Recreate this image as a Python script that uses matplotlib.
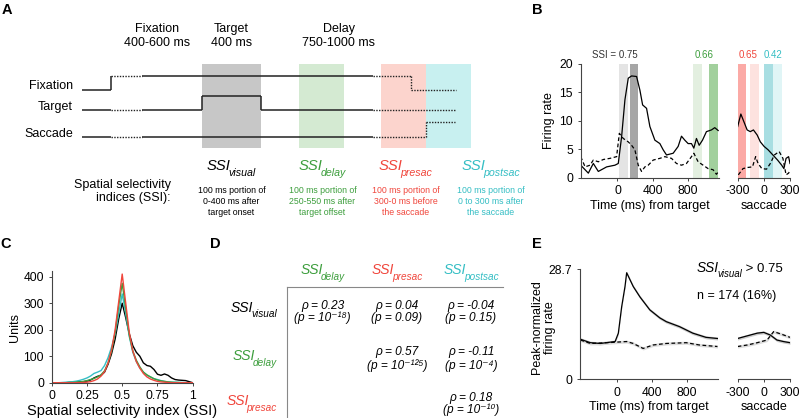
import numpy as np
import matplotlib.pyplot as plt

plt.rcParams['font.family'] = ['Liberation Sans', 'DejaVu Sans']
plt.rcParams['axes.unicode_minus'] = False
plt.rcParams['axes.linewidth'] = 0.8
plt.rcParams['axes.edgecolor'] = '#444444'
plt.rcParams['xtick.major.size'] = 2
plt.rcParams['ytick.major.size'] = 2
plt.rcParams['xtick.major.width'] = 0.7
plt.rcParams['ytick.major.width'] = 0.7
plt.rcParams['xtick.color'] = '#444444'
plt.rcParams['ytick.color'] = '#444444'
plt.rcParams['xtick.labelcolor'] = 'black'
plt.rcParams['ytick.labelcolor'] = 'black'
plt.rcParams['xtick.labelsize'] = 8.7
plt.rcParams['ytick.labelsize'] = 8.7

# colours of the four SSI epochs
col_vis, col_del, col_pre, col_post = 'black', '#3d9e3d', '#f0463c', '#35bec4'
ssi_cols = [col_vis, col_del, col_pre, col_post]
ssi_subs = ['visual', 'delay', 'presac', 'postsac']

# ---------------- panel A (schematic, pixel units of the figure)
a_epoch_names = ['Fixation\n400-600 ms', 'Target\n400 ms', 'Delay\n750-1000 ms']
a_epoch_x = [157, 231.5, 339]
a_box_x0 = [202, 299, 381, 426]
a_box_x1 = [261, 344, 426, 471]
a_box_col = ['#c7c7c7', '#d4ead2', '#fcd4cd', '#c8f0f0']
a_signals = ['Fixation', 'Target', 'Saccade']
a_sig_y = [86, 107, 134]
a_fix_x = [82, 111, 111, 142, 373, 411, 411, 456]
a_fix_y = [90, 90, 76, 76, 76, 76, 90, 90]
a_fix_dot = [0, 0, 1, 0, 1, 1, 1]
a_tgt_x = [82, 111, 142, 202, 202, 261, 261, 373, 455]
a_tgt_y = [110, 110, 110, 110, 96, 96, 110, 110, 110]
a_tgt_dot = [0, 1, 0, 0, 0, 0, 0, 1]
a_sac_x = [82, 111, 142, 373, 426, 426, 455]
a_sac_y = [137, 137, 137, 137, 137, 122, 122]
a_sac_dot = [0, 1, 0, 1, 1, 1]
a_desc = ['100 ms portion of\n0-400 ms after\ntarget onset',
          '100 ms portion of\n250-550 ms after\ntarget offset',
          '100 ms portion of\n300-0 ms before\nthe saccade',
          '100 ms portion of\n0 to 300 ms after\nthe saccade']
a_col_x = [231.5, 322.5, 405.5, 491]

# ---------------- panel B (example neuron)
b_tgt_t_pref = [-420, -333, -300, -276, -219, -124, -29, 9, 47, 85, 123, 161, 218, 256, 287, 332, 370,
                427, 484, 522, 560, 636, 693, 731, 769, 807, 845, 872, 902, 933, 971, 1016, 1073, 1111, 1150]
b_tgt_pref = [2.2, 0.8, 1.8, 2.5, 1.1, 1.9, 2.2, 2.5, 7.2, 13.7, 17.5, 17.9, 17.8, 15.4, 12.8, 12.2, 9.0,
              6.6, 6.0, 4.9, 4.0, 4.3, 5.5, 7.3, 6.6, 6.0, 6.0, 5.2, 6.9, 5.7, 6.6, 8.1, 8.4, 8.8, 8.3]
b_tgt_t_null = [-420, -370, -314, -276, -219, -162, -86, -10, 21, 66, 123, 161, 199, 237, 275, 313,
                351, 408, 484, 541, 617, 674, 731, 788, 845, 872, 921, 978, 1035, 1092, 1130, 1150]
b_tgt_null = [3.7, 1.9, 2.2, 3.1, 2.8, 3.2, 3.4, 3.7, 7.8, 6.9, 6.3, 5.7, 4.9, 2.2, 1.1, 1.9,
              2.2, 3.1, 3.4, 3.7, 3.4, 2.5, 2.2, 2.5, 3.7, 4.3, 2.8, 2.2, 1.6, 1.4, 0.6, 1.0]
b_sac_t_pref = [-298, -262, -226, -190, -154, -118, -75, -39, 4, 50, 104, 158, 205, 230, 255, 284, 300]
b_sac_pref = [9.0, 11.2, 9.8, 8.4, 8.1, 8.4, 7.5, 6.3, 5.5, 4.9, 4.0, 3.1, 2.2, 1.6, 3.4, 3.7, 2.5]
b_sac_t_null = [-291, -237, -183, -129, -93, -65, -22, 32, 75, 122, 176, 219, 255, 284, 300]
b_sac_null = [0.5, 1.6, 1.8, 1.9, 3.7, 2.5, 1.6, 1.5, 2.5, 4.0, 4.6, 3.4, 0.5, 0.8, 1.3]
b_tgt_win = [(20, 120), (140, 240), (865, 960), (1045, 1145)]
b_tgt_win_col = ['#e4e4e4', '#a6a6a6', '#e3efe0', '#a2d09d']
b_sac_win = [(-300, -200), (-160, -60), (0, 100), (110, 210)]
b_sac_win_col = ['#fbaaa6', '#fde2df', '#a8dee2', '#e0f5f6']
b_ssi_txt = ['SSI = 0.75', '0.66', '0.65', '0.42']

# ---------------- panel C (SSI distributions)
c_bins = np.arange(41) * 0.025
c_visual = [0, 0, 0, 0, 0, 1, 1, 2, 3, 4, 6, 10, 18, 24, 28, 40, 70, 110, 165, 240, 300,
            245, 185, 140, 115, 100, 75, 65, 62, 50, 32, 28, 33, 28, 18, 12, 10, 9, 8, 4, 0]
c_postsac = [0, 0, 0, 1, 2, 3, 4, 6, 9, 13, 18, 25, 35, 40, 46, 65, 95, 135, 185, 260, 335,
             260, 175, 115, 80, 55, 40, 28, 22, 15, 12, 8, 5, 3, 2, 2, 1, 1, 0, 0, 0]
c_delay = [0, 0, 0, 0, 0, 1, 1, 2, 3, 5, 8, 12, 16, 22, 30, 45, 75, 120, 190, 290, 375,
           280, 180, 120, 85, 60, 40, 30, 22, 15, 10, 7, 5, 3, 2, 1, 1, 0, 0, 0, 0]
c_presac = [0, 0, 0, 0, 0, 0, 0, 0, 0, 1, 2, 4, 8, 14, 25, 42, 75, 125, 200, 305, 410,
            300, 190, 120, 80, 55, 35, 22, 14, 9, 5, 3, 2, 1, 0, 0, 0, 0, 0, 0, 0]

# ---------------- panel D (correlations)
d_rho = [['0.23', '0.04', '-0.04'], [None, '0.57', '-0.11'], [None, None, '0.18']]
d_p = [['10⁻¹⁸', '0.09', '0.15'], [None, '10⁻¹²⁵', '10⁻⁴'], [None, None, '10⁻¹⁰']]

# ---------------- panel E (population average)
e_tgt_t_pref = [-415, -302, -189, -19, 18, 56, 94, 113, 188, 264, 377, 491, 566, 717, 868, 1019, 1150]
e_tgt_pref = [10.4, 9.5, 9.3, 9.8, 12.0, 18.9, 24.2, 27.8, 24.2, 21.5, 18.1, 16.0, 15.0, 13.7, 12.0, 10.9, 10.6]
e_tgt_t_null = [-415, -302, -113, 113, 188, 301, 415, 566, 793, 943, 1150]
e_tgt_null = [10.2, 9.3, 9.5, 9.8, 9.3, 8.0, 8.9, 9.3, 9.5, 8.9, 8.5]
e_sac_t_pref = [-299, -187, -74, 0, 75, 150, 225, 300]
e_sac_pref = [10.6, 11.3, 12.0, 12.2, 11.5, 10.2, 9.8, 9.5]
e_sac_t_null = [-299, -187, -74, 38, 113, 206, 300]
e_sac_null = [8.5, 8.9, 9.5, 10.2, 12.4, 11.7, 10.9]

dash = (0, (3, 2))
fig = plt.figure(figsize=(8, 4.18), dpi=100)
renderer = fig.canvas.get_renderer()

# overlay in pixel units for schematic, table and panel letters
ax0 = fig.add_axes([0, 0, 1, 1])
ax0.set_xlim(0, 800)
ax0.set_ylim(418, 0)
ax0.axis('off')


def ssi_text(x, y, sub, color, size, ha='center'):
    # "SSI" with a lowered italic subscript, like the original figure
    t1 = ax0.text(x, y, 'SSI', fontsize=size, fontstyle='italic', color=color, va='baseline')
    t2 = ax0.text(x, y, sub, fontsize=size * 0.72, fontstyle='italic', color=color, va='baseline')
    w1 = t1.get_window_extent(renderer).width - size * 0.2
    w2 = t2.get_window_extent(renderer).width
    tot = w1 + w2
    x0 = {'center': x - tot / 2, 'right': x - tot, 'left': x}[ha]
    t1.set_x(x0)
    t2.set_x(x0 + w1)
    t2.set_y(y + size * 0.56)
    return x0 + tot


for L, (x, y) in zip('ABCDE', [(2, 3), (532, 3), (0, 237), (210, 237), (532, 237)]):
    ax0.text(x, y, L, fontsize=10.5, fontweight='bold', va='top', ha='left')

# A: epoch headers, boxes, traces
for name, x in zip(a_epoch_names, a_epoch_x):
    ax0.text(x, 36, name, ha='center', va='center', fontsize=9, linespacing=1.3)
for x0, x1, c in zip(a_box_x0, a_box_x1, a_box_col):
    ax0.fill_between([x0, x1], 64, 148, color=c, lw=0, zorder=0)
for name, y in zip(a_signals, a_sig_y):
    ax0.text(73, y, name, ha='right', va='center', fontsize=9)
for xs, ys, dots in [(a_fix_x, a_fix_y, a_fix_dot), (a_tgt_x, a_tgt_y, a_tgt_dot),
                     (a_sac_x, a_sac_y, a_sac_dot)]:
    for i, d in enumerate(dots):
        ax0.plot(xs[i:i + 2], ys[i:i + 2], color='#222222', lw=1.1 if not d else 1.0,
                 ls=(0, (1, 1)) if d else '-', solid_capstyle='butt')
ax0.text(171, 191.5, 'Spatial selectivity\nindices (SSI):', ha='right', va='center',
         fontsize=9, multialignment='right', linespacing=1.2)
for x, sub, desc, c in zip(a_col_x, ssi_subs, a_desc, ssi_cols):
    ssi_text(x, 170.5, sub, c, 10.6)
    ax0.text(x, 186, desc, ha='center', va='top', fontsize=6.3, color=c, linespacing=1.3)

# D: correlation table
d_col_x = [322.5, 397, 471]
d_row_y = [311.5, 360, 405]
d_line_y = [308.5, 355.5, 400.5]
for x, sub, c in zip(d_col_x, ssi_subs[1:], ssi_cols[1:]):
    ssi_text(x, 274, sub, c, 10)
for y, sub, c in zip(d_row_y, ssi_subs[:3], ssi_cols[:3]):
    ssi_text(277, y, sub, c, 10, ha='right')
for i in range(3):
    for j in range(3):
        if d_rho[i][j] is None:
            continue
        ax0.text(d_col_x[j], d_line_y[i], 'ρ = ' + d_rho[i][j], ha='center', va='baseline',
                 fontsize=8.6, fontstyle='italic')
        ax0.text(d_col_x[j], d_line_y[i] + 13, '(p = ' + d_p[i][j] + ')', ha='center',
                 va='baseline', fontsize=8.6, fontstyle='italic')
ax0.plot([286.7, 503], [287.3, 287.3], color='#888888', lw=0.8)
ax0.plot([286.7, 286.7], [287.3, 418], color='#888888', lw=0.8)


def style(ax, left=True):
    ax.set_facecolor('none')
    ax.spines['top'].set_visible(False)
    ax.spines['right'].set_visible(False)
    if not left:
        ax.spines['left'].set_visible(False)
        ax.set_yticks([])


# B
axB1 = fig.add_axes([0.7259, 0.5749, 0.1729, 0.272])
axB2 = fig.add_axes([0.9219, 0.5749, 0.0656, 0.272])
for (t0, t1), c in zip(b_tgt_win, b_tgt_win_col):
    axB1.axvspan(t0, t1, color=c, lw=0, zorder=0)
for (t0, t1), c in zip(b_sac_win, b_sac_win_col):
    axB2.axvspan(t0, t1, color=c, lw=0, zorder=0)
axB1.plot(b_tgt_t_pref, b_tgt_pref, color='black', lw=0.9)
axB1.plot(b_tgt_t_null, b_tgt_null, color='black', lw=0.9, ls=dash)
axB2.plot(b_sac_t_pref, b_sac_pref, color='black', lw=0.9)
axB2.plot(b_sac_t_null, b_sac_null, color='black', lw=0.9, ls=dash)
axB1.set_xlim(-420, 1160)
axB2.set_xlim(-300, 300)
for ax in (axB1, axB2):
    ax.set_ylim(0, 20)
style(axB1)
style(axB2, left=False)
axB1.set_xticks([0, 400, 800])
axB1.set_yticks([0, 5, 10, 15, 20])
axB2.set_xticks([-300, 0, 300])
axB1.set_ylabel('Firing rate', fontsize=9, labelpad=3)
axB1.set_xlabel('Time (ms) from target', fontsize=9, labelpad=2)
axB2.set_xlabel('saccade', fontsize=9, labelpad=2)
axB1.text(-30, 20.7, b_ssi_txt[0], ha='center', va='bottom', fontsize=7, color='#333333')
axB1.text(990, 20.7, b_ssi_txt[1], ha='center', va='bottom', fontsize=7, color=col_del)
axB2.text(-180, 20.7, b_ssi_txt[2], ha='center', va='bottom', fontsize=7, color=col_pre)
axB2.text(105, 20.7, b_ssi_txt[3], ha='center', va='bottom', fontsize=7, color=col_post)

# C
axC = fig.add_axes([0.0646, 0.0844, 0.1763, 0.2663])
for vals, c in zip([c_visual, c_postsac, c_delay, c_presac], [col_vis, col_post, col_del, col_pre]):
    axC.plot(c_bins, vals, color=c, lw=1.0)
axC.set_xlim(0, 1)
axC.set_ylim(0, 420)
axC.set_xticks([0, 0.25, 0.5, 0.75, 1])
axC.set_xticklabels(['0', '0.25', '0.5', '0.75', '1'])
axC.set_yticks([0, 100, 200, 300, 400])
style(axC)
axC.set_ylabel('Units', fontsize=9, labelpad=2)
axC.set_xlabel('Spatial selectivity index (SSI)', fontsize=10.5, labelpad=1)

# E
axE1 = fig.add_axes([0.725, 0.0933, 0.1729, 0.2624])
axE2 = fig.add_axes([0.9219, 0.0933, 0.0656, 0.2624])
for ax, tp, vp, tn, vn in [(axE1, e_tgt_t_pref, e_tgt_pref, e_tgt_t_null, e_tgt_null),
                           (axE2, e_sac_t_pref, e_sac_pref, e_sac_t_null, e_sac_null)]:
    ax.fill_between(tp, np.array(vp) - 0.4, np.array(vp) + 0.4, color='#cccccc', lw=0)
    ax.fill_between(tn, np.array(vn) - 0.4, np.array(vn) + 0.4, color='#dddddd', lw=0)
    ax.plot(tp, vp, color='black', lw=0.9)
    ax.plot(tn, vn, color='black', lw=0.9, ls=dash)
    ax.set_ylim(0, 28.7)
axE1.set_xlim(-420, 1160)
axE2.set_xlim(-300, 300)
style(axE1)
style(axE2, left=False)
axE1.set_xticks([0, 400, 800])
axE1.set_yticks([0, 28.7])
axE1.set_yticklabels(['0', '28.7'])
axE2.set_xticks([-300, 0, 300])
axE1.set_ylabel('Peak-normalized\nfiring rate', fontsize=9)
axE1.yaxis.set_label_coords(-0.17, 0.47)
axE1.set_xlabel('Time (ms) from target', fontsize=9, labelpad=2)
axE2.set_xlabel('saccade', fontsize=9, labelpad=2)
xe = ssi_text(697, 271.5, 'visual', 'black', 9.8, ha='left')
ax0.text(xe, 271.5, ' > 0.75', ha='left', va='baseline', fontsize=9.5)
ax0.text(697, 299, 'n = 174 (16%)', ha='left', va='baseline', fontsize=9)

fig.savefig('out.png', dpi=100)
